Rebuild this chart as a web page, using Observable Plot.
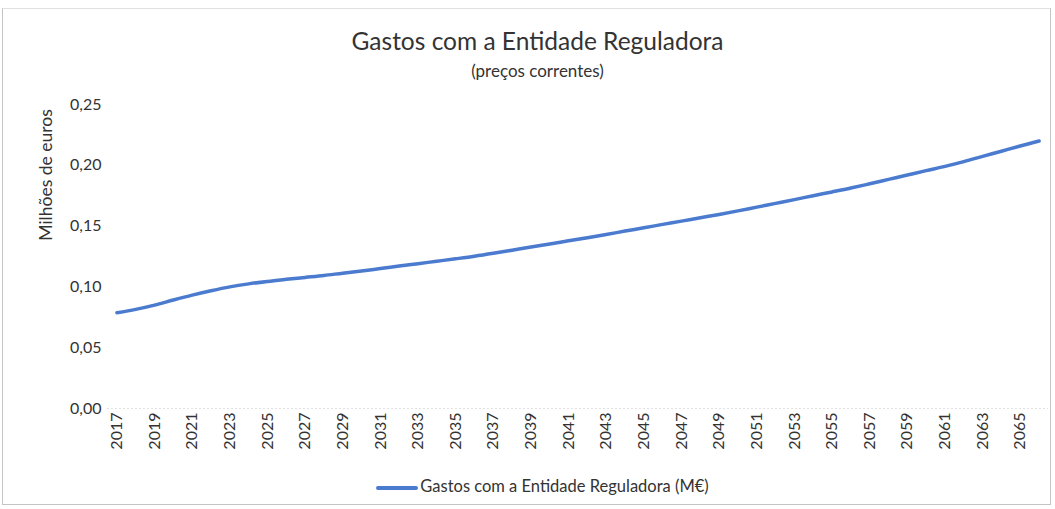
<!DOCTYPE html>
<html>
<head>
<meta charset="utf-8">
<script src="https://cdn.jsdelivr.net/npm/d3@7"></script>
<script src="https://cdn.jsdelivr.net/npm/@observablehq/plot@0.6"></script>
<style>
  html, body { margin: 0; padding: 0; background: #fff; }
  body { width: 1055px; height: 509px; position: relative; overflow: hidden; font-family: Lato, "Open Sans", sans-serif; color: #333; }
  #frame { position: absolute; left: 2px; top: 8px; width: 1049px; height: 497px; border: 1px solid #c4c4c4; border-top-color: #e0e0e0; box-sizing: border-box; }
  #title { position: absolute; left: 0; top: 26px; width: 1075px; text-align: center; font-size: 24.5px; color: #333; }
  #subtitle { position: absolute; left: 0; top: 60px; width: 1075px; text-align: center; font-size: 17px; color: #333; }
  #ylabel { position: absolute; left: 45px; top: 175px; transform: translate(-50%, -50%) rotate(-90deg); font-size: 17.5px; white-space: nowrap; color: #333; }
  #chart { position: absolute; left: 0; top: 90px; }
  #legend { position: absolute; left: 0; top: 476px; width: 1085px; text-align: center; font-size: 16.5px; color: #333; }
  #legend .sw { display: inline-block; width: 42px; height: 4px; background: #4a7bcf; vertical-align: middle; margin-right: 2px; border-radius: 2px; }
</style>
</head>
<body>
<div id="frame"></div>
<div id="title">Gastos com a Entidade Reguladora</div>
<div id="subtitle">(preços correntes)</div>
<div id="ylabel">Milhões de euros</div>
<div id="chart"></div>
<div id="legend"><span class="sw"></span>Gastos com a Entidade Reguladora (M€)</div>
<script>
const years = [2017,2018,2019,2020,2021,2022,2023,2024,2025,2026,2027,2028,2029,2030,2031,2032,2033,2034,2035,2036,2037,2038,2039,2040,2041,2042,2043,2044,2045,2046,2047,2048,2049,2050,2051,2052,2053,2054,2055,2056,2057,2058,2059,2060,2061,2062,2063,2064,2065,2066];
const gastos = [0.0787,0.0815,0.0850,0.0892,0.0932,0.0968,0.1000,0.1025,0.1045,0.1062,0.1078,0.1094,0.1113,0.1131,0.1151,0.1171,0.1191,0.1211,0.1231,0.1252,0.1276,0.1302,0.1328,0.1353,0.1379,0.1405,0.1431,0.1459,0.1486,0.1514,0.1541,0.1569,0.1596,0.1625,0.1656,0.1687,0.1718,0.1750,0.1781,0.1813,0.1848,0.1884,0.1920,0.1956,0.1991,0.2030,0.2073,0.2116,0.2159,0.2200];
const yTicks = [0, 0.05, 0.10, 0.15, 0.20, 0.25];
const xTickYears = years.filter(y => y % 2 === 1);
const seriesName = "Gastos com a Entidade Reguladora (M€)";

const data = years.map((y, i) => ({year: y, value: gastos[i]}));

const chart = Plot.plot({
  width: 1055,
  height: 385,
  marginLeft: 107,
  marginRight: 7,
  marginTop: 14,
  marginBottom: 67,
  style: { fontFamily: "Lato, 'Open Sans', sans-serif", fontSize: "16px", color: "#333", background: "transparent" },
  x: { type: "point", domain: years, padding: 0.5 },
  y: { domain: [0, 0.25] },
  marks: [
    Plot.ruleY([0], { stroke: "#e2e2e2", strokeDasharray: "2,2" }),
    Plot.axisY({ ticks: yTicks, tickSize: 0, tickPadding: 6, label: null,
      tickFormat: d => d.toFixed(2).replace(".", ","), fill: "#333" }),
    Plot.axisX({ ticks: xTickYears, tickSize: 0, tickPadding: 4, tickRotate: -90, label: null,
      tickFormat: d => String(d), fill: "#333" }),
    Plot.line(data, { x: "year", y: "value", stroke: "#4a7bcf", strokeWidth: 3.5, curve: "monotone-x" })
  ]
});
document.getElementById("chart").appendChild(chart);
</script>
</body>
</html>
